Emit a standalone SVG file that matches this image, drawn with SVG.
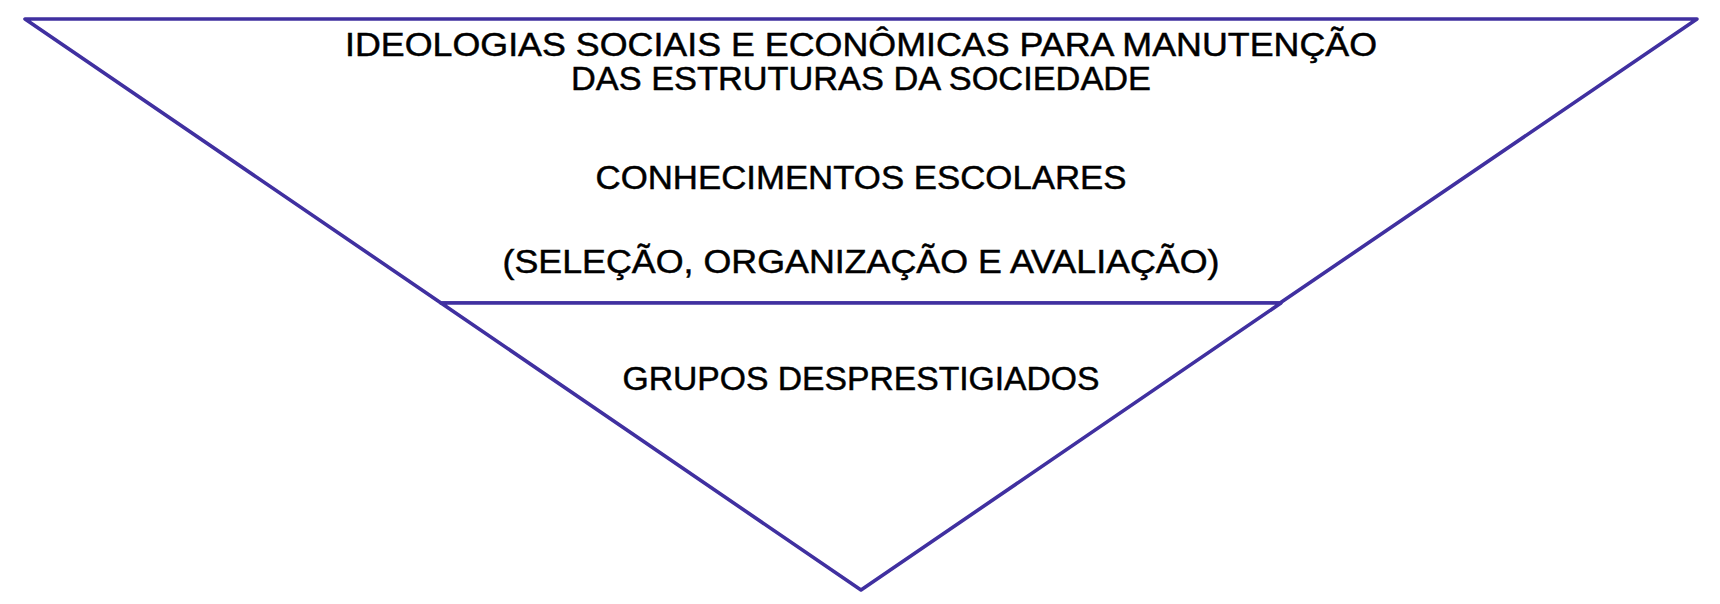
<svg xmlns="http://www.w3.org/2000/svg" width="1720" height="604" viewBox="0 0 1720 604">
<style>
.shape{fill:#ffffff;stroke:#4030A0;stroke-width:3.6;stroke-linejoin:round}
.t{font-family:"Liberation Sans","Noto Sans",Arial,sans-serif;font-size:34px;fill:#000;stroke:#000;stroke-width:0.5;text-anchor:middle}
</style>
<rect width="1720" height="604" fill="#ffffff"/>
<g id="top-level">
<polygon class="shape" points="25,19 1697,19 1280,303 441,303"/>
<text class="t" x="861" y="56" textLength="1032" lengthAdjust="spacingAndGlyphs">IDEOLOGIAS SOCIAIS E ECONÔMICAS PARA MANUTENÇÃO</text>
<text class="t" x="861" y="90" textLength="580" lengthAdjust="spacingAndGlyphs">DAS ESTRUTURAS DA SOCIEDADE</text>
<text class="t" x="861" y="189" textLength="531" lengthAdjust="spacingAndGlyphs">CONHECIMENTOS ESCOLARES</text>
<text class="t" x="861" y="273" textLength="717" lengthAdjust="spacingAndGlyphs">(SELEÇÃO, ORGANIZAÇÃO E AVALIAÇÃO)</text>
</g>
<g id="bottom-level">
<polygon class="shape" points="441,303 1281,303 861,590"/>
<text class="t" x="861" y="390" textLength="477" lengthAdjust="spacingAndGlyphs">GRUPOS DESPRESTIGIADOS</text>
</g>
<g id="connectors"></g>
</svg>
